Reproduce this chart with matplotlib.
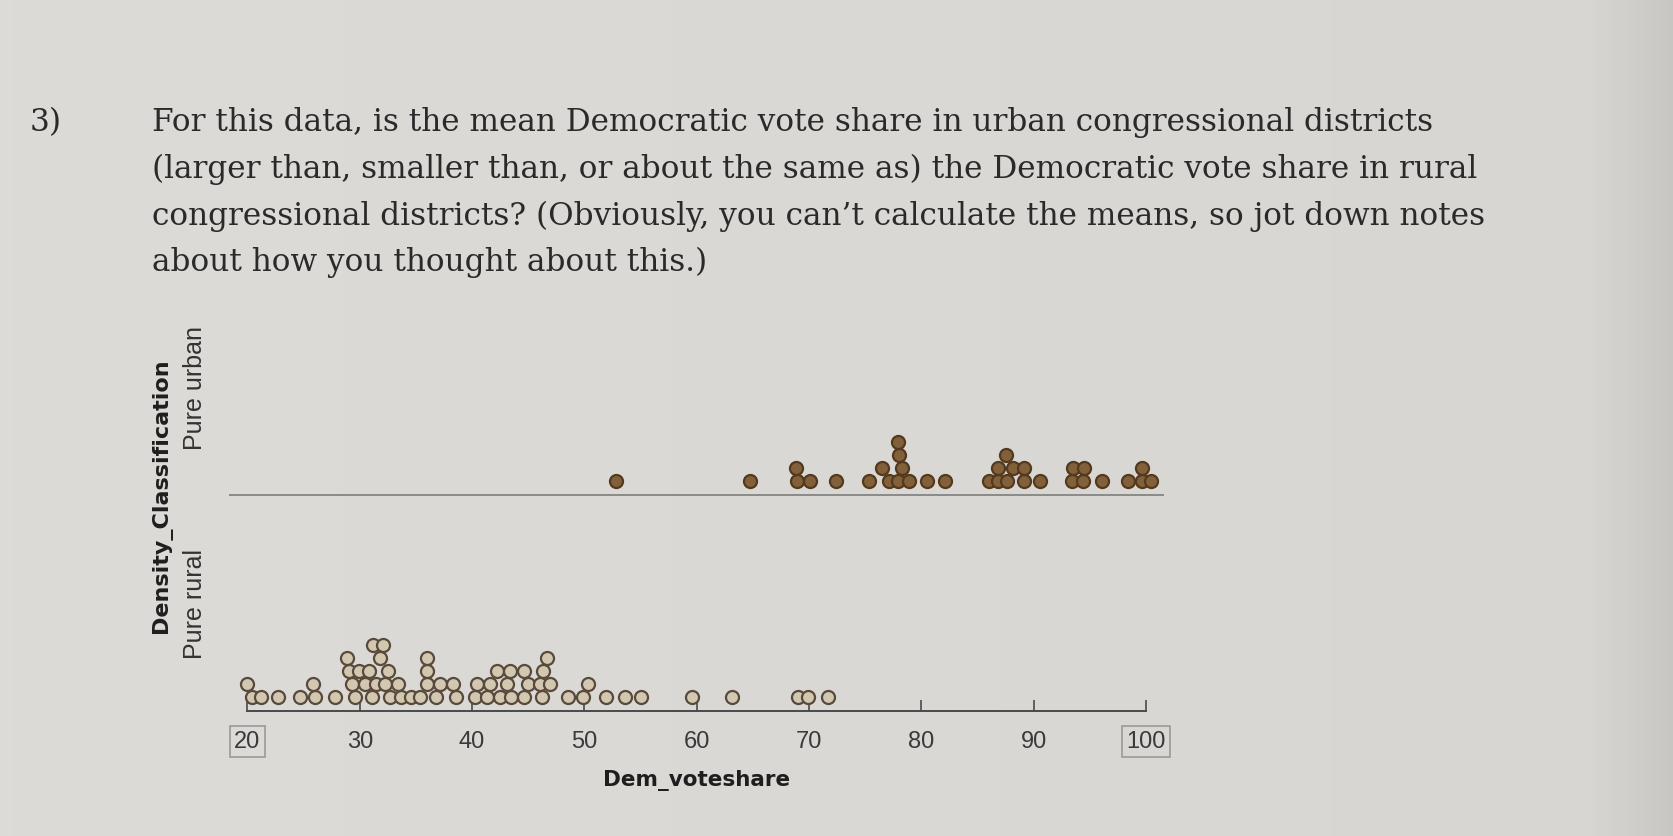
import matplotlib
matplotlib.use('Agg')
import matplotlib.pyplot as plt
import numpy as np

# Dem vote share per district, in the order the dots were dropped
rural_share = [20.4, 21.2, 22.7, 24.7, 26.0, 27.8, 29.6, 31.1, 32.7, 33.7, 34.6, 35.4,
               36.8, 38.6, 40.3, 41.3, 42.5, 43.5, 44.6, 46.2, 48.5, 49.9, 51.9, 53.6,
               55.0, 59.6, 63.1, 69.0, 69.9, 71.7,
               20.0, 25.8, 29.3, 30.5, 31.4, 32.2, 33.4, 36.0, 37.1, 38.3, 40.4, 41.6,
               43.1, 45.0, 46.0, 46.9, 50.3,
               29.0, 29.9, 30.8, 32.5, 36.0, 42.2, 43.4, 44.6, 46.3,
               28.9, 31.8, 36.0, 46.7,
               31.2, 32.1]
urban_share = [52.8, 64.7, 68.9, 70.1, 72.4, 75.3, 77.1, 77.9, 78.9, 80.5, 82.1, 86.0,
               86.8, 87.6, 89.1, 90.6, 93.4, 94.4, 96.1, 98.4, 99.6, 100.4,
               68.8, 76.5, 78.3, 86.8, 88.2, 89.1, 93.5, 94.5, 99.6,
               78.0, 87.5,
               77.9]
categories = ['Pure rural', 'Pure urban']
x_ticks = [20, 30, 40, 50, 60, 70, 80, 90, 100]

question = ["For this data, is the mean Democratic vote share in urban congressional districts",
            "(larger than, smaller than, or about the same as) the Democratic vote share in rural",
            "congressional districts? (Obviously, you can\u2019t calculate the means, so jot down notes",
            "about how you thought about this.)"]


def stack_levels(values, gap=0.75):
    # drop dots one by one onto the lowest free level
    placed = []
    levels = []
    for v in values:
        lev = 0
        while any(l == lev and abs(p - v) < gap for p, l in placed):
            lev += 1
        placed.append((v, lev))
        levels.append(lev)
    return levels


W, H = 1674, 837
fig = plt.figure(figsize=(W / 100, H / 100), dpi=100)
fig.patch.set_facecolor('#dcdad5')

# photo background: slightly darker toward the right edge
bg = fig.add_axes([0, 0, 1, 1], zorder=-10)
xx = np.linspace(0, 1, 400)
shade = 0.865 - 0.02 * xx - 0.06 * np.clip((xx - 0.95) / 0.05, 0, 1)
img = np.dstack([shade, shade * 0.993, shade * 0.975])
bg.imshow(img.reshape(1, -1, 3), aspect='auto', extent=[0, 1, 0, 1])
bg.axis('off')

txt_col = '#2a2a2a'
fig.text(30 / W, 1 - 123 / H, '3)', family='DejaVu Serif', fontsize=22.4, color=txt_col, va='center')
for i, line in enumerate(question):
    fig.text(152 / W, 1 - (123 + 46.5 * i) / H, line, family='DejaVu Serif',
             fontsize=22.4, color=txt_col, va='center')

# plot area: 229..1164 px wide, 280..712 px tall, y in pixels above the axis
left, right, top, bottom = 229.5, 1164, 280, 712
ax = fig.add_axes([left / W, 1 - bottom / H, (right - left) / W, (bottom - top) / H])
ax.set_facecolor('none')
ax.set_xlim(18.4, 101.6)
ax.set_ylim(0, bottom - top)
band = (bottom - top) / 2

for k, (vals, face, edge) in enumerate([(rural_share, '#d2c7b0', '#5a4a3b'),
                                         (urban_share, '#82613a', '#533a1e')]):
    levels = stack_levels(vals)
    ys = [k * band + 14 + 13 * l for l in levels]
    ax.scatter(vals, ys, s=88, facecolor=face, edgecolor=edge, linewidth=1.6, zorder=3)

ax.axhline(band, color='#8a8a88', linewidth=1.4)

for s in ['top', 'right', 'left']:
    ax.spines[s].set_visible(False)
ax.spines['bottom'].set_bounds(20, 100)
ax.spines['bottom'].set_color('#4a4a4a')
ax.spines['bottom'].set_linewidth(1.4)

ax.set_xticks(x_ticks)
ax.set_xticklabels([str(t) for t in x_ticks], family='Liberation Sans', fontsize=17, color='#3a3a3a')
ax.tick_params(axis='x', direction='in', length=8, width=1.2, color='#4a4a4a', pad=14)
for lab in [ax.get_xticklabels()[0], ax.get_xticklabels()[-1]]:
    lab.set_bbox(dict(facecolor='none', edgecolor='#9a9a98', linewidth=1.2, boxstyle='square,pad=0.2'))

ax.set_yticks([band / 2, band * 1.5])
ax.set_yticklabels(categories, rotation=90, va='center', family='Liberation Sans', fontsize=18, color='#333333')
ax.tick_params(axis='y', length=0, pad=16)

ax.set_xlabel('Dem_voteshare', family='DejaVu Sans', fontweight='bold', fontsize=15.5, color='#1e1e1e', labelpad=12)
ax.set_ylabel('Density_Classification', family='DejaVu Sans', fontweight='bold', fontsize=16, color='#1e1e1e', labelpad=8)

fig.savefig('out.png', dpi=100, facecolor=fig.get_facecolor())
